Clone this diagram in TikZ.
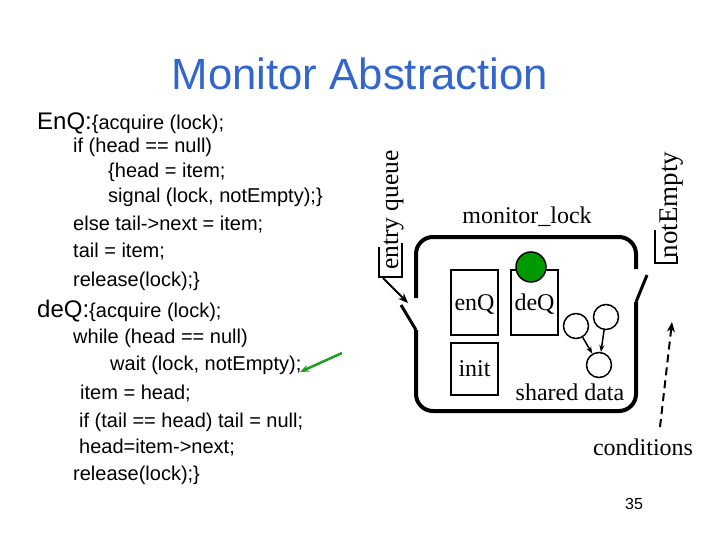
\documentclass[tikz,border=0pt]{standalone}
\usepackage{fontspec}
\setmainfont{Liberation Sans}
\newfontfamily\timesfont{Liberation Serif}
\usetikzlibrary{arrows.meta}
\definecolor{titleblue}{RGB}{51,102,204}
\definecolor{lockgreen}{RGB}{0,153,0}
\definecolor{arrowgreen}{RGB}{30,160,30}

\begin{document}
\begin{tikzpicture}[x=1pt, y=-1pt, code/.style = {anchor=base west, inner sep=0, font=\fontsize{20}{24}\selectfont}, label/.style = {inner sep=0, font=\timesfont\fontsize{24}{28}\selectfont}, box/.style = {draw, rectangle, line width=1.5pt, inner sep=0, text depth=0pt, font=\timesfont\fontsize{24}{28}\selectfont}, wall/.style = {line width=4pt, rounded corners=17pt}, door/.style = {line width=3pt}, datum/.style = {draw, circle, line width=1.5pt, minimum size=25pt, inner sep=0}]
  \useasboundingbox (0, 0) rectangle (720, 540);
  \node[anchor=base, inner sep=0, text=titleblue, font=\fontsize{43.7}{52}\selectfont] at (360, 90) (title) {Monitor Abstraction};
  % code on the left
  \node[code] at (37, 130) (enq) {{\fontsize{24}{28}\selectfont EnQ:}\{acquire (lock);};
  \node[code] at (73, 153) (enq-if) {if (head == null)};
  \node[code] at (108, 178) (enq-head) {\{head = item;};
  \node[code] at (108, 203) (enq-signal) {signal (lock, notEmpty);\}};
  \node[code] at (73, 230) (enq-else) {else tail->next = item;};
  \node[code] at (73, 258) (enq-tail) {tail = item;};
  \node[code] at (73, 286) (enq-release) {release(lock);\}};
  \node[code] at (37, 317) (deq) {{\fontsize{24}{28}\selectfont deQ:}\{acquire (lock);};
  \node[code] at (73, 343) (deq-while) {while (head == null)};
  \node[code] at (110, 370) (deq-wait) {wait (lock, notEmpty);};
  \node[code] at (80, 399) (deq-item) {item = head;};
  \node[code] at (79, 427) (deq-if) {if (tail == head) tail = null;};
  \node[code] at (79, 453) (deq-head) {head=item->next;};
  \node[code] at (73, 480) (deq-release) {release(lock);\}};
  \coordinate (wait-tip) at (300, 372);
  \coordinate (wait-tail) at (342, 353);
  \draw[-{Stealth[length=9pt, width=7pt]}, line width=2.5pt, arrowgreen] (wait-tail) -- (wait-tip);
  % monitor
  \draw[wall] (416, 298) -- (416, 237) -- (636, 237) -- (636, 269);
  \draw[wall] (416, 330) -- (416, 411) -- (636, 411) -- (636, 302);
  \draw[door] (401, 305) -- (416, 330);
  \draw[door] (647, 275) -- (636, 302);
  \node[label, anchor=base] at (527, 223) (lock) {monitor\_lock};
  \node[box, minimum width=47pt, minimum height=65pt] at (474.5, 302.5) (enq-box) {enQ};
  \node[box, minimum width=47pt, minimum height=65pt] at (534.5, 302.5) (deq-box) {deQ};
  \node[box, minimum width=47pt, minimum height=52pt] at (474.5, 369) (init-box) {init};
  \node[draw, circle, line width=1.5pt, fill=lockgreen, minimum size=30pt, inner sep=0] at (531, 267) (owner) {};
  \node[datum] at (576, 326) (data-a) {};
  \node[datum] at (606, 317) (data-b) {};
  \node[datum] at (599, 365) (data-c) {};
  \draw[-{Stealth[length=7pt]}, line width=1.5pt] (data-a) -- (data-c);
  \draw[-{Stealth[length=7pt]}, line width=1.5pt] (data-b) -- (data-c);
  \node[label, anchor=base] at (570, 400) (shared) {shared data};
  % queues
  \node[label, anchor=base, rotate=90, font=\timesfont\fontsize{25.5}{30}\selectfont] at (398, 210) (entry) {entry queue};
  \draw[line width=1.2pt] (379, 247) -- (379, 277) -- (402, 277) -- (402, 243);
  \coordinate (entry-foot) at (383, 278);
  \coordinate (entry-door) at (408, 303);
  \draw[-{Stealth[length=10pt, width=8pt]}, line width=2pt] (entry-foot) -- (entry-door);
  \node[label, anchor=base, rotate=90, font=\timesfont\fontsize{27}{32}\selectfont] at (677, 205) (empty) {notEmpty};
  \draw[line width=1.2pt] (655, 230) -- (655, 263) -- (677, 263) -- (677, 256);
  \node[label, anchor=base] at (643, 455) (conditions) {conditions};
  \coordinate (cond-foot) at (660, 427);
  \coordinate (cond-tip) at (672, 322);
  \draw[-{Stealth[length=10pt, width=8pt]}, line width=2pt, dash pattern=on 8pt off 5pt] (cond-foot) -- (cond-tip);
  \node[anchor=base, inner sep=0, font=\fontsize{16}{19}\selectfont] at (634, 509) (page) {35};
\end{tikzpicture}
\end{document}
